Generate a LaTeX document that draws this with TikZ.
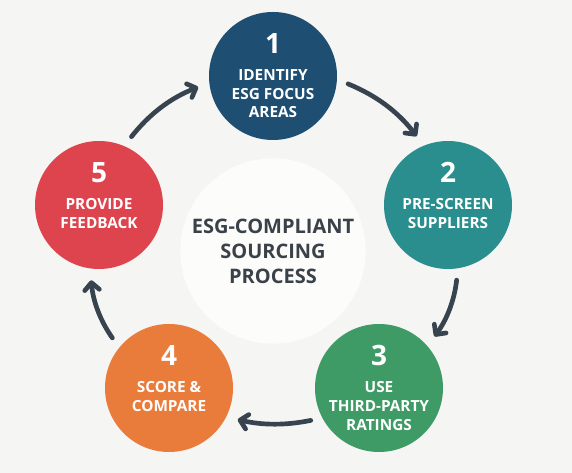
\documentclass[tikz,border=0pt]{standalone}
\usepackage{fontspec}
\setmainfont{Open Sans}
\usetikzlibrary{arrows.meta,positioning}
\definecolor{bgcol}{HTML}{F5F5F3}
\definecolor{hubcol}{HTML}{FCFCFA}
\definecolor{hubtext}{HTML}{3A4149}
\definecolor{arrowcol}{HTML}{37434F}
\definecolor{col1}{HTML}{1E4E72}
\definecolor{col2}{HTML}{2B8E8E}
\definecolor{col3}{HTML}{3F9B65}
\definecolor{col4}{HTML}{E97B3B}
\definecolor{col5}{HTML}{DE444E}

\begin{document}
\begin{tikzpicture}[x=0.75pt,y=0.75pt,
stage/.style={circle,fill=#1,
minimum size=96pt,inner sep=0pt,outer sep=0pt},
stagenum/.style={text=white,anchor=base,
font=\fontsize{21}{24}\selectfont\bfseries},
stagetxt/.style={text=white,anchor=north,align=center,inner sep=0pt,
font=\fontsize{11.5}{14}\selectfont\bfseries},
cyc/.style={draw=arrowcol,line width=3.5pt,line cap=round,
-{Straight Barb[length=5.5pt,width=11pt,round]},
shorten <=9pt,shorten >=9pt},
]
\fill[bgcol] (0,0) rectangle (572,-473);
\useasboundingbox (0,0) rectangle (572,-473);
% centre
\node (hub) [circle,fill=hubcol,minimum size=139pt,inner sep=0pt,
text=hubtext,align=center,
font=\fontsize{15}{18.75}\selectfont\bfseries] at (273,-251)
{ESG-COMPLIANT\\SOURCING\\PROCESS};
% stages
\node (stage1) [stage=col1] at (273,-76) {};
\node (stage2) [stage=col2] at (448,-205) {};
\node (stage3) [stage=col3] at (379,-388) {};
\node (stage4) [stage=col4] at (169,-388) {};
\node (stage5) [stage=col5] at (99,-205) {};
\node (num1) [stagenum] at ([yshift=16.5pt]stage1.center) {1};
\node (num2) [stagenum] at ([yshift=16.5pt]stage2.center) {2};
\node (num3) [stagenum] at ([yshift=16.5pt]stage3.center) {3};
\node (num4) [stagenum] at ([yshift=16.5pt]stage4.center) {4};
\node (num5) [stagenum] at ([yshift=16.5pt]stage5.center) {5};
\node (txt1) [stagetxt] at ([yshift=5pt]stage1.center) {IDENTIFY\\ESG FOCUS\\AREAS};
\node (txt2) [stagetxt] at ([yshift=5pt]stage2.center) {PRE-SCREEN\\SUPPLIERS};
\node (txt3) [stagetxt] at ([yshift=5pt]stage3.center) {USE\\THIRD-PARTY\\RATINGS};
\node (txt4) [stagetxt] at ([yshift=5pt]stage4.center) {SCORE \&\\COMPARE};
\node (txt5) [stagetxt] at ([yshift=5pt]stage5.center) {PROVIDE\\FEEDBACK};
% cycle
\draw[cyc] (stage5.67) to[bend left=15] (stage1.186);
\draw[cyc] (stage1.-3) to[bend left=15] (stage2.112);
\draw[cyc] (stage2.-81) to[bend left=15] (stage3.41);
\draw[cyc] (stage3.208) to[bend left=12] (stage4.-27);
\draw[cyc] (stage4.141) to[bend left=15] (stage5.262);
\end{tikzpicture}
\end{document}
